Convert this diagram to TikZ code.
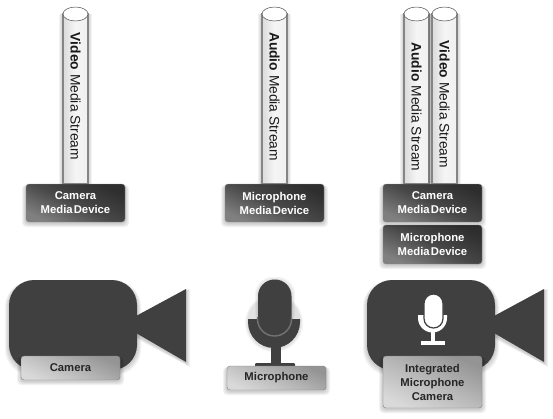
\documentclass[tikz,border=0pt]{standalone}
\usepackage{fontspec}
\setmainfont{Liberation Sans}
\newfontfamily\tightfont[WordSpace=0.35]{Liberation Sans}
\usetikzlibrary{shapes.geometric}
\definecolor{iconfill}{HTML}{404040}
\tikzset{
  x=1pt,y=-1pt,
  pipebody/.style={rectangle,draw=black!48,line width=1.3pt,minimum width=25pt,inner sep=0pt,
    left color=black!14,right color=black!6,middle color=black!4},
  pipetop/.style={ellipse,draw=black!70,line width=.5pt,fill=white,minimum width=25pt,minimum height=14pt,inner sep=0pt},
  pipetext/.style={rotate=-90,font=\fontsize{13.8}{16}\selectfont,inner sep=0pt,text=black!90},
  devicebox/.style={rectangle,rounded corners=3pt,minimum width=99pt,inner sep=0pt,align=center,
    draw=black!45,line width=.4pt,shading=axis,shading angle=155,
    top color=black!50,bottom color=black!82,middle color=black!72,
    shading angle=155,
    text=white,font=\tightfont\bfseries\fontsize{11.3}{14}\selectfont},
  hardbox/.style={rectangle,rounded corners=3pt,minimum width=99pt,inner sep=0pt,align=center,
    draw=black!50,line width=.4pt,shading=axis,
    top color=black!15,bottom color=black!42,middle color=black!28,
    shading angle=155,
    text=black!85,font=\tightfont\bfseries\fontsize{11.3}{14}\selectfont},
  iconshape/.style={fill=iconfill},
}
\newcommand{\softrect}[4]{%
  \foreach \e in {1,2,3,4}{\fill[black,opacity=.05,rounded corners=4pt]
    ({#1-\e},{#2+1}) rectangle ({#3+\e},{#4+1+\e});}}
\newcommand{\streampipe}[6]{% name, centre x, top y, bottom y, bold word, text centre y
  \foreach \e in {1,2,3,4}{\fill[black,opacity=.05] ({#2-12.5-\e},{#3}) rectangle ({#2+12.5+\e},{#4});}
  \node[pipebody,minimum height={#4-#3}] (#1body) at (#2,{(#3+#4)/2}) {};
  \node[pipetop] (#1top) at (#2,#3) {};
  \node[pipetext] (#1text) at (#2,#6) {\textbf{#5} Media Stream};
}
\newcommand{\camerabody}[1]{% left x
  \foreach \e in {1,2,3,4}{\fill[black,opacity=.05,rounded corners=26pt]
    ({#1-\e},{281}) rectangle ({#1+128+\e},{371+\e});
    \fill[black,opacity=.05] ({#1+128},{316}) -- ({#1+177+\e},{289}) -- ({#1+177+\e},{363+\e}) -- ({#1+128},{335+\e}) -- cycle;}
  \fill[iconshape,rounded corners=25pt] (#1,280) rectangle ({#1+128},370);
  \fill[iconshape] ({#1+127},316) -- ({#1+177},289) -- ({#1+177},362) -- ({#1+127},333) -- cycle;
}
\begin{document}
\begin{tikzpicture}
\useasboundingbox (0,0) rectangle (553,418);
% streams
\streampipe{videoA}{75.5}{14}{184}{Video}{96.5}
\streampipe{audioB}{274.5}{14}{184}{Audio}{96.5}
\streampipe{audioC}{416.5}{14}{184}{Audio}{107}
\streampipe{videoC}{444.5}{14}{184}{Video}{104.5}
% media devices
\softrect{26}{184}{125}{222}
\node[devicebox,minimum height=38pt] (devA) at (75.5,203) {Camera\\Media Device};
\softrect{225}{184}{324}{222}
\node[devicebox,minimum height=38pt] (devB) at (274.5,203) {Microphone\\Media Device};
\softrect{383}{225}{482}{264}
\node[devicebox,minimum height=39pt] (devD) at (432.5,244.5) {Microphone\\Media Device};
\softrect{383}{184}{482}{222}
\node[devicebox,minimum height=38pt] (devC) at (432.5,203) {Camera\\Media Device};
% camera
\camerabody{9}
\softrect{21}{356}{120}{380}
\node[hardbox,minimum height=24pt] (hwA) at (70.5,368) {Camera};
% microphone
\foreach \e in {1,2,3}{\fill[black,opacity=.04,rounded corners=17pt] ({258-\e},{280-\e}) rectangle ({292+\e},{330});
  \fill[black,opacity=.04] ({274},{323}) circle[radius={26+\e}];}
\fill[iconshape] (248,319) -- (300,319) -- (300,322) arc[start angle=0,end angle=180,radius=26] -- cycle;
\fill[iconshape] (270.5,345) rectangle (281,366);
\fill[iconshape,rounded corners=1pt] (255,363) rectangle (295,368);
\fill[iconshape,rounded corners=16.5pt] (258,279.5) rectangle (291.5,333);
\draw[draw=black!55,line width=1.4pt] (257.5,319) -- (257.5,317) (291.5,317) -- (291.5,319) arc[start angle=0,end angle=180,radius=17] -- (257.5,317);
\softrect{227}{366}{326}{390}
\node[hardbox,minimum height=24pt] (hwB) at (276.5,378) {Microphone};
% integrated
\camerabody{367}
\fill[white] (418,315) -- (447,315) -- (447,318) arc[start angle=0,end angle=180,radius=14.5] -- cycle;
\fill[white] (431,330) rectangle (435,342);
\fill[white] (421,341) rectangle (445,344.5);
\filldraw[fill=white,draw=iconfill,line width=1.2pt,rounded corners=9.5pt] (424,294) rectangle (443,328);
\softrect{383}{356}{482}{408}
\node[hardbox,minimum height=52pt] (hwC) at (432.5,382) {Integrated\\Microphone\\Camera};
\end{tikzpicture}
\end{document}
